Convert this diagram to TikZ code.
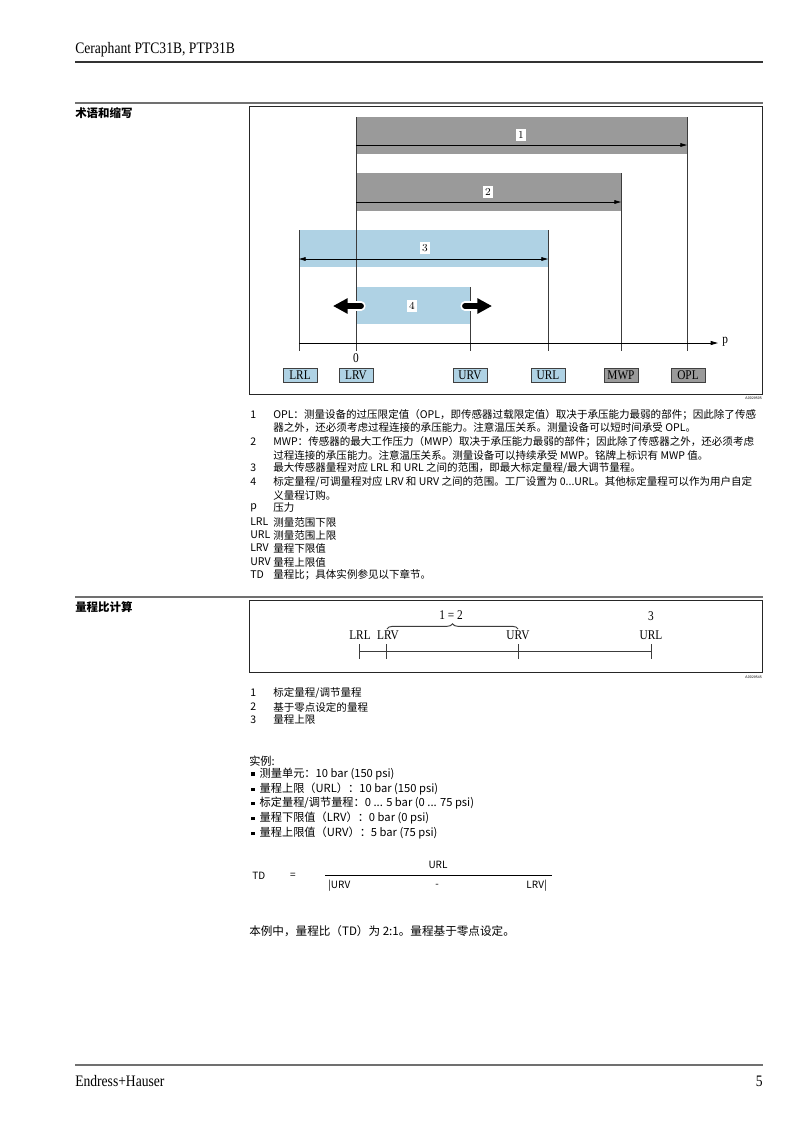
\documentclass[tikz,border=0pt]{standalone}
\usepackage{fontspec}
\usepackage{xcolor}
\usepackage{tikz}
\newfontfamily\cjk{Noto Sans CJK SC}
\newfontfamily\ehserif[FakeStretch=0.85]{Liberation Serif}
\usetikzlibrary{arrows.meta,positioning,decorations.pathreplacing}
\definecolor{barGrey}{HTML}{9A9A9A}
\definecolor{barBlue}{HTML}{AFD2E4}
\definecolor{lineGrey}{HTML}{3C3C3C}
\definecolor{ruleGrey}{HTML}{707070}
\tikzset{
  greybar/.style={fill=barGrey},
  bluebar/.style={fill=barBlue},
  limline/.style={draw=lineGrey, line width=0.7pt},
  spanarrow/.style={-{Triangle[length=5pt,width=2.8pt]}, line width=0.6pt},
  axisarrow/.style={-{Triangle[length=5.5pt,width=3pt]}, line width=0.75pt},
  twoarrow/.style={{Triangle[length=5pt,width=2.8pt]}-{Triangle[length=5pt,width=2.8pt]}, line width=0.6pt},
  movearrow/.style={-{Triangle[length=11pt,width=11pt]}, line width=4.4pt, line cap=round},
  numtag/.style={fill=white, inner sep=1.8pt, font=\fontsize{8}{9}\selectfont},
  valtag/.style={draw=black!75, line width=0.5pt, fill=barBlue, minimum width=25.5pt, minimum height=10.5pt, inner sep=0pt, font=\ehserif\fontsize{10}{11}\selectfont},
  limtag/.style={valtag, fill=barGrey},
  axlab/.style={inner sep=0pt, font=\ehserif\fontsize{10}{11}\selectfont},
  figframe/.style={draw=black!85, line width=0.7pt},
  secrule/.style={draw=ruleGrey, line width=1.4pt},
  legtext/.style={anchor=west, inner sep=0pt, font=\cjk\fontsize{7.9}{9}\selectfont},
  sechead/.style={anchor=west, inner sep=0pt, font=\cjk\bfseries\fontsize{8.6}{10}\selectfont},
  figid/.style={anchor=east, inner sep=0pt, font=\sffamily\fontsize{2.8}{3}\selectfont},
  runner/.style={anchor=west, inner sep=0pt, font=\ehserif\fontsize{12}{14}\selectfont},
  formula/.style={inner sep=0pt, font=\cjk\fontsize{7.5}{9}\selectfont},
  extext/.style={legtext, font=\cjk\fontsize{8.4}{10}\selectfont}
}
\newcommand{\bul}{\rule[1pt]{2.7pt}{2.7pt}\hspace{3.6pt}}
\begin{document}
\begin{tikzpicture}[x=0.75pt,y=-0.75pt]
  \useasboundingbox[fill=white] (0,0) rectangle (793,1122);

  % page header
  \node[runner] (doc) at (75,50) {Ceraphant PTC31B, PTP31B};
  \draw[draw=black!80, line width=0.8pt] (75,62) -- (763,62);
  \draw[secrule] (75,103) -- (763,103);
  \node[sechead] (terms) at (75,113) {术语和缩写};

  % pressure ranges
  \draw[figframe] (249,106) rectangle (762,394);
  \fill[greybar] (356,117) rectangle (687,154);
  \fill[greybar] (356,173) rectangle (621,211);
  \fill[bluebar] (299,230) rectangle (548,267);
  \fill[bluebar] (356,287) rectangle (470,324);

  \draw[limline] (299,230) -- (299,351);
  \draw[limline] (356,117) -- (356,351);
  \draw[limline] (470,287) -- (470,351);
  \draw[limline] (548,230) -- (548,351);
  \draw[limline] (621,173) -- (621,351);
  \draw[limline] (687,117) -- (687,351);

  \coordinate (opl) at (687,145);
  \coordinate (mwp) at (621,202);
  \coordinate (lrl) at (299,259);
  \coordinate (url) at (548,259);
  \draw[spanarrow] (356,145) -- (opl);
  \draw[spanarrow] (356,202) -- (mwp);
  \draw[twoarrow] (lrl) -- (url);

  \node[numtag] (n1) at (521,135) {1};
  \node[numtag] (n2) at (488,192) {2};
  \node[numtag] (n3) at (425,248) {3};
  \node[numtag] (n4) at (412,306) {4};

  % adjustable span
  \draw[white, line width=7pt, line cap=round] (361,306) -- (352,306);
  \draw[white, line width=7pt, line cap=round] (465,306) -- (474,306);
  \draw[movearrow] (361,306) -- (333,306);
  \draw[movearrow] (465,306) -- (492,306);

  % pressure axis
  \coordinate (axstart) at (299,343);
  \coordinate (axend) at (718,343);
  \node[axlab, anchor=west] (p) at (722,342) {p};
  \draw[axisarrow] (axstart) -- (axend);
  \node[axlab] (zero) at (356,358) {0};

  \node[valtag] (tLRL) at (300,375) {LRL};
  \node[valtag] (tLRV) at (356,375) {LRV};
  \node[valtag] (tURV) at (470,375) {URV};
  \node[valtag] (tURL) at (548,375) {URL};
  \node[limtag] (tMWP) at (621,375) {MWP};
  \node[limtag] (tOPL) at (688,375) {OPL};
  \node[figid] (id1) at (762,398) {A0029505};

  % legend
  \node[legtext] (k1) at (250,415) {1};
  \node[legtext] (l1) at (273,415) {OPL：测量设备的过压限定值（OPL，即传感器过载限定值）取决于承压能力最弱的部件；因此除了传感};
  \node[legtext] (l1b) at (273,428) {器之外，还必须考虑过程连接的承压能力。注意温压关系。测量设备可以短时间承受 OPL。};
  \node[legtext] (k2) at (250,442) {2};
  \node[legtext] (l2) at (273,442) {MWP：传感器的最大工作压力（MWP）取决于承压能力最弱的部件；因此除了传感器之外，还必须考虑};
  \node[legtext] (l2b) at (273,455) {过程连接的承压能力。注意温压关系。测量设备可以持续承受 MWP。铭牌上标识有 MWP 值。};
  \node[legtext] (k3) at (250,468) {3};
  \node[legtext] (l3) at (273,468) {最大传感器量程对应 LRL 和 URL 之间的范围，即最大标定量程/最大调节量程。};
  \node[legtext] (k4) at (250,482) {4};
  \node[legtext] (l4) at (273,482) {标定量程/可调量程对应 LRV 和 URV 之间的范围。工厂设置为 0...URL。其他标定量程可以作为用户自定};
  \node[legtext] (l4b) at (273,495) {义量程订购。};
  \node[legtext] (kp) at (250,508) {p};
  \node[legtext] (lp) at (273,508) {压力};
  \node[legtext] (kLRL) at (250,522) {LRL};
  \node[legtext] (lLRL) at (273,522) {测量范围下限};
  \node[legtext] (kURL) at (250,535) {URL};
  \node[legtext] (lURL) at (273,535) {测量范围上限};
  \node[legtext] (kLRV) at (250,548) {LRV};
  \node[legtext] (lLRV) at (273,548) {量程下限值};
  \node[legtext] (kURV) at (250,562) {URV};
  \node[legtext] (lURV) at (273,562) {量程上限值};
  \node[legtext] (kTD) at (250,575) {TD};
  \node[legtext] (lTD) at (273,575) {量程比；具体实例参见以下章节。};

  % turndown section
  \draw[secrule] (75,597) -- (763,597);
  \node[sechead] (tdcalc) at (75,607) {量程比计算};
  \draw[figframe] (249,600) rectangle (762,672);

  \node[axlab] (bLRL) at (360,635) {LRL};
  \node[axlab] (bLRV) at (388,635) {LRV};
  \node[axlab] (bURV) at (518,635) {URV};
  \node[axlab] (bURL) at (651,635) {URL};
  \node[axlab] (b12) at (451,615) {1 = 2};
  \node[axlab] (b3) at (651,616) {3};
  \coordinate (scaleL) at (359,651);
  \coordinate (scaleR) at (651,651);
  \draw[limline] (scaleL) -- (scaleR);
  \draw[limline] (359,644) -- (359,659);
  \draw[limline] (386,644) -- (386,659);
  \draw[limline] (518,644) -- (518,659);
  \draw[limline] (651,644) -- (651,659);
  \draw[limline, decorate, decoration={brace, amplitude=4pt}] (387,629) -- (518,629);
  \node[figid] (id2) at (762,677) {A0029545};

  \node[legtext] (m1) at (250,693) {1};
  \node[legtext] (t1) at (273,693) {标定量程/调节量程};
  \node[legtext] (m2) at (250,707) {2};
  \node[legtext] (t2) at (273,707) {基于零点设定的量程};
  \node[legtext] (m3) at (250,720) {3};
  \node[legtext] (t3) at (273,720) {量程上限};

  % example
  \node[extext] (ex) at (249,761) {实例:};
  \node[extext] (e1) at (251,774) {\bul 测量单元：10 bar (150 psi)};
  \node[extext] (e2) at (251,789) {\bul 量程上限（URL）：10 bar (150 psi)};
  \node[extext] (e3) at (251,803) {\bul 标定量程/调节量程：0 ... 5 bar (0 ... 75 psi)};
  \node[extext] (e4) at (251,818) {\bul 量程下限值（LRV）：0 bar (0 psi)};
  \node[extext] (e5) at (251,833) {\bul 量程上限值（URV）：5 bar (75 psi)};

  % formula
  \node[formula, anchor=west] (fTD) at (252,876) {TD};
  \node[formula] (feq) at (293,876) {=};
  \node[formula] (fnum) at (438,865) {URL};
  \node[formula, anchor=west] (fURV) at (328,886) {|URV};
  \node[formula] (fminus) at (437,886) {-};
  \node[formula, anchor=east] (fLRV) at (547,886) {LRV|};
  \coordinate (barL) at (325,875);
  \coordinate (barR) at (552,875);
  \draw[line width=0.6pt] (barL) -- (barR);

  \node[extext, font=\cjk\fontsize{8.7}{10}\selectfont] (result) at (249,931) {本例中，量程比（TD）为 2:1。量程基于零点设定。};

  % page footer
  \draw[secrule] (75,1065) -- (763,1065);
  \node[runner] (maker) at (75,1081) {Endress+Hauser};
  \node[runner, anchor=east] (page) at (763,1081) {5};
\end{tikzpicture}
\end{document}
